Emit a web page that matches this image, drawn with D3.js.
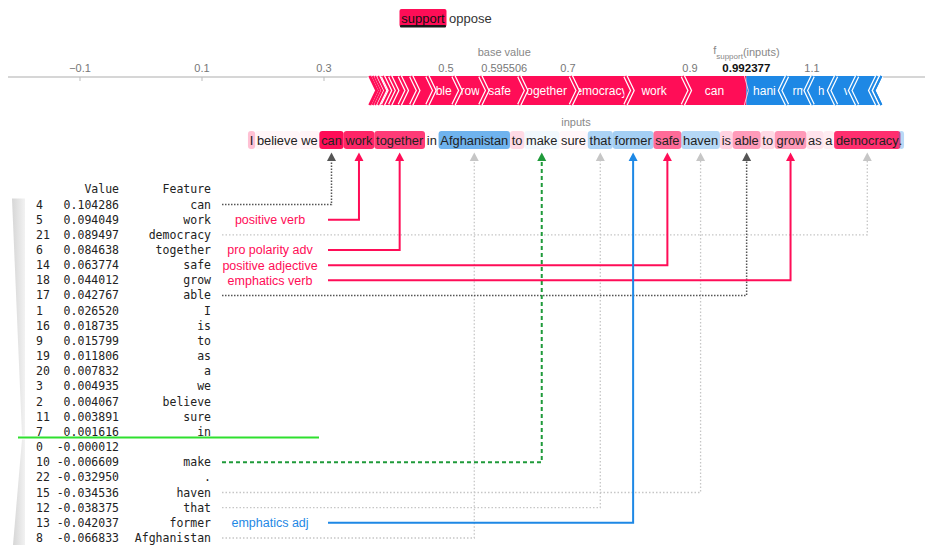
<!DOCTYPE html>
<html>
<head>
<meta charset="utf-8">
<script src="https://cdn.jsdelivr.net/npm/d3@7"></script>
<style>
  html, body { margin: 0; padding: 0; background: #fff; }
  svg { display: block; }
</style>
</head>
<body>
<svg id="chart" width="925" height="545"></svg>
<script>
// ---------- data ----------
const classNames = ["support", "oppose"];
const baseValue = 0.595506;
const outputValue = 0.992377;
const axisTicks = [-0.1, 0.1, 0.3, 0.5, 0.7, 0.9, 1.1];

// features sorted by contribution (table order)
const featureIds = [4, 5, 21, 6, 14, 18, 17, 1, 16, 9, 19, 20, 3, 2, 11, 7, 0, 10, 22, 15, 12, 13, 8];
const featureValues = [0.104286, 0.094049, 0.089497, 0.084638, 0.063774, 0.044012, 0.042767, 0.026520,
  0.018735, 0.015799, 0.011806, 0.007832, 0.004935, 0.004067, 0.003891, 0.001616,
  -0.000012, -0.006609, -0.032950, -0.034536, -0.038375, -0.042037, -0.066833];
const featureNames = ["can", "work", "democracy", "together", "safe", "grow", "able", "I", "is", "to", "as",
  "a", "we", "believe", "sure", "in", "", "make", ".", "haven", "that", "former", "Afghanistan"];

// the input sentence and the feature each word belongs to
const sentenceWords = ["I", "believe", "we", "can", "work", "together", "in", "Afghanistan", "to", "make", "sure",
  "that", "former", "safe", "haven", "is", "able", "to", "grow", "as", "a", "democracy", "."];
const sentenceFeature = [1, 2, 3, 4, 5, 6, 7, 8, 9, 10, 11, 12, 13, 14, 15, 16, 17, 9, 18, 19, 20, 21, 22];

// annotated words (index into the sentence), their connector style and tag
const noteWordPos = [3, 4, 21, 5, 13, 18, 16, 7, 9, 11, 12, 14];
const noteStyle = ["dark", "red", "gray", "red", "red", "red", "dark", "gray", "green", "gray", "blue", "gray"];
const noteLabel = ["", "positive verb", "", "pro polarity adv", "positive adjective", "emphatics verb",
  "", "", "", "", "emphatics adj", ""];

// ---------- setup ----------
const FONT = '"Liberation Sans", Arial, Helvetica, sans-serif';
const MONO = '"DejaVu Sans Mono", monospace';
const RED = "#ff0d57", BLUE = "#1e88e5";
const RED_RGB = [255, 13, 87], BLUE_RGB = [30, 136, 229];

const svg = d3.select("#chart");
const defs = svg.append("defs");
const ctx = document.createElement("canvas").getContext("2d");

// ---------- class legend ----------
const legend = svg.append("g");
legend.append("rect").attr("x", 399.5).attr("y", 9).attr("width", 47).attr("height", 18)
  .attr("rx", 2).attr("fill", RED);
legend.append("rect").attr("x", 400).attr("y", 25).attr("width", 46).attr("height", 2.5)
  .attr("rx", 1).attr("fill", "#1a1a1a");
legend.append("text").attr("x", 423).attr("y", 22.5).attr("text-anchor", "middle")
  .attr("font-family", FONT).attr("font-size", 13).attr("fill", "#111").text(classNames[0]);
legend.append("text").attr("x", 449).attr("y", 22.5)
  .attr("font-family", FONT).attr("font-size", 13).attr("fill", "#333").text(classNames[1]);

// ---------- force plot ----------
const x = d3.scaleLinear().domain([-0.1, 1.1]).range([80, 812]);
const axisY = 77, barTop = 76, barBot = 105, barMid = (barTop + barBot) / 2, tip = 7;

const force = svg.append("g");
force.append("line").attr("x1", 8).attr("x2", 925).attr("y1", axisY).attr("y2", axisY)
  .attr("stroke", "#c8c8c8").attr("stroke-width", 1.5);

force.selectAll("line.tick").data(axisTicks.concat([baseValue])).join("line").attr("class", "tick")
  .attr("x1", d => x(d)).attr("x2", d => x(d)).attr("y1", axisY).attr("y2", axisY + 4)
  .attr("stroke", "#bbb").attr("stroke-width", 1);

force.selectAll("text.tick").data(axisTicks).join("text").attr("class", "tick")
  .attr("x", d => x(d)).attr("y", 72).attr("text-anchor", "middle")
  .attr("font-family", FONT).attr("font-size", 11).attr("fill", "#777")
  .text(d => d3.format(".1f")(d));

force.append("text").attr("x", x(baseValue)).attr("y", 72).attr("text-anchor", "middle")
  .attr("font-family", FONT).attr("font-size", 11).attr("fill", "#777").text(baseValue.toFixed(6));
force.append("text").attr("x", x(baseValue)).attr("y", 56).attr("text-anchor", "middle")
  .attr("font-family", FONT).attr("font-size", 11).attr("fill", "#888").text("base value");

force.append("text").attr("x", x(outputValue)).attr("y", 72).attr("text-anchor", "middle")
  .attr("font-family", FONT).attr("font-size", 11.5).attr("font-weight", "bold").attr("fill", "#111")
  .text(outputValue.toFixed(6));
const fLabel = force.append("text").attr("x", x(outputValue)).attr("y", 56).attr("text-anchor", "middle")
  .attr("font-family", FONT).attr("font-size", 11).attr("fill", "#888");
fLabel.append("tspan").attr("dy", -2).text("f");
fLabel.append("tspan").attr("dy", 5).attr("font-size", 8).text(classNames[0]);
fLabel.append("tspan").attr("dy", -3).text("(inputs)");

// stack contributions outward from the output value
const feats = featureIds.map((id, i) => ({ id, v: featureValues[i], name: featureNames[i] }));
const reds = feats.filter(d => d.v > 0);
let cur = outputValue;
reds.forEach((d, i) => { d.end = cur; d.start = cur - d.v; cur = d.start; d.first = i === 0; });
const blues = feats.filter(d => d.v <= 0).reverse();
cur = outputValue;
blues.forEach((d, i) => { d.start = cur; d.end = cur - d.v; cur = d.end; d.first = i === 0; });

function redPath(d) {
  const a = x(d.start), b = x(d.end), te = d.first ? 0 : tip;
  return `M${a},${barTop}L${b},${barTop}L${b + te},${barMid}L${b},${barBot}L${a},${barBot}L${a + tip},${barMid}Z`;
}
function bluePath(d) {
  const a = x(d.start), b = x(d.end), ts = d.first ? 0 : tip;
  return `M${a},${barTop}L${b},${barTop}L${b - tip},${barMid}L${b},${barBot}L${a},${barBot}L${a - ts},${barMid}Z`;
}

force.selectAll("path.red").data(reds).join("path").attr("class", "red").attr("d", redPath).attr("fill", RED);
force.selectAll("path.blue").data(blues).join("path").attr("class", "blue").attr("d", bluePath).attr("fill", BLUE);

// labels: the part of each name that fits inside its block, clipped to the block body
const barFont = 12;
ctx.font = `${barFont}px "Liberation Sans"`;
const labelled = reds.concat(blues).filter(d => Math.abs(x(d.end) - x(d.start)) > 21);
labelled.forEach((d, i) => {
  const a = x(d.start), b = x(d.end);
  const lo = d.v > 0 ? a + tip + 1 : a + 6;
  const hi = d.v > 0 ? b - 1 : b - tip - 3;
  const full = ctx.measureText(d.name).width;
  const left = (a + b) / 2 - full / 2;
  // keep the characters whose centre falls inside the window
  let i0 = -1, i1 = -1;
  for (let k = 0; k < d.name.length; k++) {
    const c0 = left + ctx.measureText(d.name.slice(0, k)).width;
    const c1 = left + ctx.measureText(d.name.slice(0, k + 1)).width;
    const mid = (c0 + c1) / 2;
    if (mid >= lo - 1 && mid <= hi + 1) { if (i0 < 0) i0 = k; i1 = k; }
  }
  if (i0 < 0) return;
  const part = d.name.slice(i0, i1 + 1);
  const px = left + ctx.measureText(d.name.slice(0, i0)).width;
  defs.append("clipPath").attr("id", "blk" + i).append("rect")
    .attr("x", lo).attr("y", barTop).attr("width", Math.max(0, hi - lo)).attr("height", barBot - barTop);
  force.append("text").attr("x", px).attr("y", barMid + 4.5)
    .attr("clip-path", `url(#blk${i})`)
    .attr("font-family", FONT).attr("font-size", barFont).attr("fill", "#fff").text(part);
});

// chevron separators between blocks
function sepRed(d) { const a = x(d.start); return `M${a},${barTop}L${a + tip},${barMid}L${a},${barBot}`; }
function sepBlue(d) { const b = x(d.end); return `M${b},${barTop}L${b - tip},${barMid}L${b},${barBot}`; }
force.selectAll("path.sepRedW").data(reds).join("path").attr("d", sepRed)
  .attr("fill", "none").attr("stroke", "#fff").attr("stroke-width", 4.5);
force.selectAll("path.sepRedC").data(reds).join("path").attr("d", sepRed)
  .attr("fill", "none").attr("stroke", RED).attr("stroke-width", 2);
force.selectAll("path.sepBlueW").data(blues).join("path").attr("d", sepBlue)
  .attr("fill", "none").attr("stroke", "#fff").attr("stroke-width", 4.5);
force.selectAll("path.sepBlueC").data(blues).join("path").attr("d", sepBlue)
  .attr("fill", "none").attr("stroke", BLUE).attr("stroke-width", 2);
force.append("path")
  .attr("d", `M${x(outputValue) - 2},${barTop}L${x(outputValue) + 2},${barMid}L${x(outputValue) - 2},${barBot}`)
  .attr("fill", "none").attr("stroke", "#ffc3d5").attr("stroke-width", 1);

// ---------- highlighted sentence ----------
const textSize = 12.85;
ctx.font = `${textSize}px "Liberation Sans"`;
const spaceW = ctx.measureText(" ").width;
const wordW = sentenceWords.map(w => ctx.measureText(w).width);
const gaps = sentenceWords.map((w, i) => (i === 0 || w === ".") ? 0 : spaceW);
const totalW = d3.sum(wordW) + d3.sum(gaps);
const textCenter = 576;
let tx = textCenter - totalW / 2;
const words = sentenceWords.map((w, i) => {
  tx += gaps[i];
  const o = { w, x0: tx, x1: tx + wordW[i], fid: sentenceFeature[i] };
  tx += wordW[i];
  return o;
});
const valueOf = new Map(featureIds.map((id, i) => [id, featureValues[i]]));
const maxAbs = d3.max(featureValues, v => Math.abs(v));
const alpha = d3.scaleLinear().domain([0, maxAbs]).range([0, 1]);

const sent = svg.append("g");
sent.append("text").attr("x", textCenter).attr("y", 126).attr("text-anchor", "middle")
  .attr("font-family", FONT).attr("font-size", 11).attr("fill", "#888").text("inputs");

const boxTop = 131, boxH = 18;
sent.selectAll("rect").data(words).join("rect")
  .attr("x", d => d.x0 - (d.w === "." ? 0 : spaceW / 2))
  .attr("width", d => d.x1 - d.x0 + (d.w === "." ? spaceW / 2 : spaceW))
  .attr("y", boxTop).attr("height", boxH).attr("rx", 3)
  .attr("fill", d => {
    const v = valueOf.get(d.fid), c = v >= 0 ? RED_RGB : BLUE_RGB;
    return `rgba(${c[0]},${c[1]},${c[2]},${alpha(Math.abs(v)).toFixed(3)})`;
  });
sent.selectAll("text.word").data(words).join("text").attr("class", "word")
  .attr("x", d => d.x0).attr("y", boxTop + 13.5)
  .attr("font-family", FONT).attr("font-size", textSize).attr("fill", "#222").text(d => d.w);

// ---------- feature table ----------
const rowY = d3.scaleLinear().domain([0, featureIds.length - 1]).range([204.5, 538]);
const table = svg.append("g").attr("font-family", MONO).attr("font-size", 11.5).attr("fill", "#222");

// tapering sort indicator
const grad = defs.append("linearGradient").attr("id", "wedge").attr("x1", 0).attr("x2", 1).attr("y1", 0).attr("y2", 0);
grad.append("stop").attr("offset", 0).attr("stop-color", "#d6d6d6");
grad.append("stop").attr("offset", 1).attr("stop-color", "#f2f2f2");
const nPos = featureValues.filter(v => v > 0).length;
const splitY = rowY(nPos - 1) + 5.5;
const wedgeR = 25, wedgeW = 13;
table.append("path")
  .attr("d", `M${wedgeR - wedgeW},${rowY(0) - 6}L${wedgeR},${rowY(0) - 6}L${wedgeR},${splitY - 2}L${wedgeR - 3},${splitY - 2}Z`)
  .attr("fill", "url(#wedge)");
table.append("path")
  .attr("d", `M${wedgeR - 3},${splitY + 2}L${wedgeR},${splitY + 2}L${wedgeR},545L${wedgeR - wedgeW + 1},545Z`)
  .attr("fill", "url(#wedge)");

table.append("text").attr("x", 119).attr("y", 189).attr("dy", "0.35em").attr("text-anchor", "end").text("Value");
table.append("text").attr("x", 211).attr("y", 189).attr("dy", "0.35em").attr("text-anchor", "end").text("Feature");
const rows = table.selectAll("g.row").data(featureIds.map((id, i) => i)).join("g").attr("class", "row");
rows.append("text").attr("x", 36).attr("y", i => rowY(i)).attr("dy", "0.35em").text(i => featureIds[i]);
rows.append("text").attr("x", 119).attr("y", i => rowY(i)).attr("dy", "0.35em").attr("text-anchor", "end")
  .text(i => featureValues[i].toFixed(6));
rows.append("text").attr("x", 211).attr("y", i => rowY(i)).attr("dy", "0.35em").attr("text-anchor", "end")
  .text(i => featureNames[i]);

svg.append("line").attr("x1", 18).attr("x2", 319).attr("y1", splitY).attr("y2", splitY)
  .attr("stroke", "#2fe02f").attr("stroke-width", 2);

// ---------- connectors from words to table rows ----------
const styles = {
  gray:  { color: "#c6c6c6", width: 1.3, dash: "1.5,2" },
  dark:  { color: "#555",    width: 1.5, dash: "1.5,1.5" },
  green: { color: "#1f9a3a", width: 2,   dash: "4,3" },
  red:   { color: RED,       width: 2,   dash: null },
  blue:  { color: BLUE,      width: 2,   dash: null }
};
const notes = noteWordPos.map((p, i) => {
  const w = words[p];
  return {
    xc: (w.x0 + w.x1) / 2,
    y: rowY(featureIds.indexOf(w.fid)),
    style: noteStyle[i],
    label: noteLabel[i]
  };
});
const order = ["gray", "dark", "green", "red", "blue"];
notes.sort((a, b) => order.indexOf(a.style) - order.indexOf(b.style));

const arrowTop = 152.5, arrowBase = 161;
const conn = svg.append("g");
notes.forEach(n => {
  const s = styles[n.style];
  const xStart = n.label ? 328 : 222;
  conn.append("path")
    .attr("d", `M${xStart},${n.y}H${n.xc}V${arrowBase}`)
    .attr("fill", "none").attr("stroke", s.color).attr("stroke-width", s.width)
    .attr("stroke-dasharray", s.dash);
  conn.append("path")
    .attr("d", `M${n.xc - 4.5},${arrowBase}L${n.xc},${arrowTop}L${n.xc + 4.5},${arrowBase}Z`)
    .attr("fill", s.color);
  if (n.label) {
    conn.append("text").attr("x", 270).attr("y", n.y).attr("dy", "0.35em").attr("text-anchor", "middle")
      .attr("font-family", FONT).attr("font-size", 12.5).attr("fill", s.color).text(n.label);
  }
});
</script>
</body>
</html>
